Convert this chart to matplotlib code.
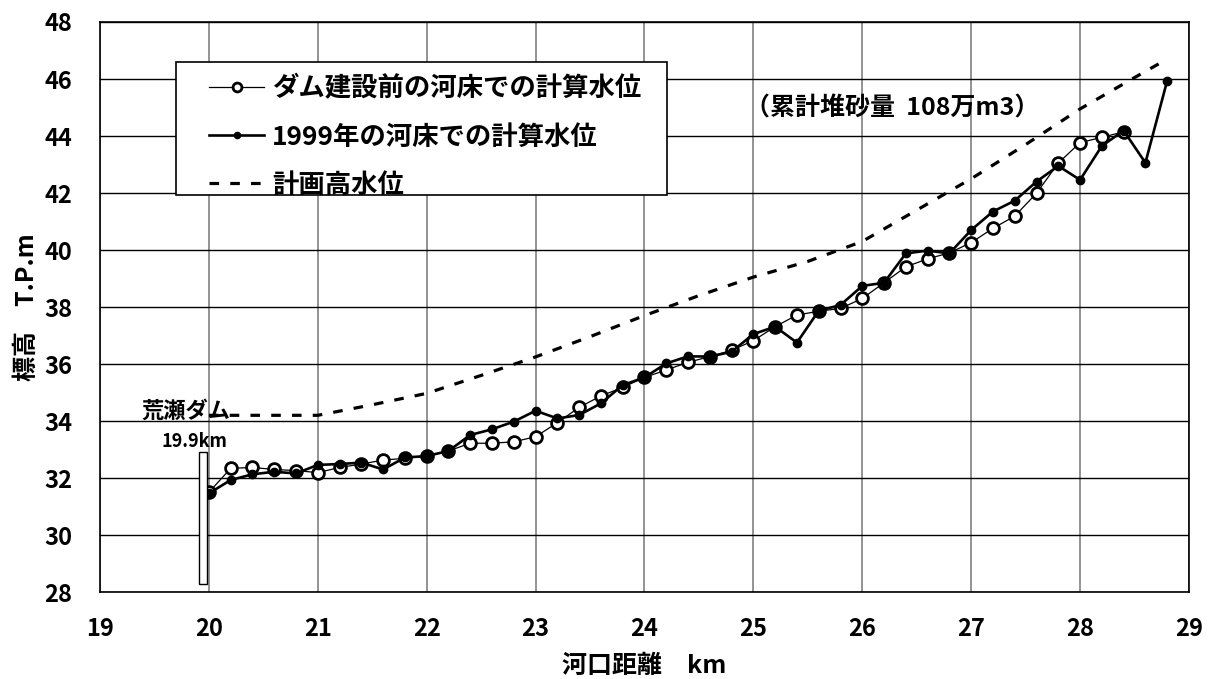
import matplotlib
matplotlib.use('Agg')
from matplotlib import pyplot as plt
from matplotlib.patches import Rectangle

plt.rcParams['font.family'] = ['Noto Sans CJK JP', 'DejaVu Sans']
plt.rcParams['font.weight'] = 'bold'

# ダム建設前の河床での計算水位
x_before = [20.0, 20.2, 20.4, 20.6, 20.8, 21.0, 21.2, 21.4, 21.6, 21.8,
            22.0, 22.2, 22.4, 22.6, 22.8, 23.0, 23.2, 23.4, 23.6, 23.8,
            24.0, 24.2, 24.4, 24.6, 24.8, 25.0, 25.2, 25.4, 25.6, 25.8,
            26.0, 26.2, 26.4, 26.6, 26.8, 27.0, 27.2, 27.4, 27.6, 27.8,
            28.0, 28.2, 28.4]
y_before = [31.5, 32.34, 32.37, 32.3, 32.26, 32.19, 32.37, 32.49, 32.63, 32.69,
            32.77, 32.95, 33.22, 33.22, 33.27, 33.45, 33.94, 34.48, 34.88, 35.18,
            35.53, 35.79, 36.06, 36.26, 36.48, 36.82, 37.31, 37.72, 37.85, 37.95,
            38.3, 38.85, 39.41, 39.69, 39.9, 40.26, 40.76, 41.19, 41.99, 43.05,
            43.77, 43.95, 44.15]

# 1999年の河床での計算水位
x_1999 = [20.0, 20.2, 20.4, 20.6, 20.8, 21.0, 21.2, 21.4, 21.6, 21.8,
          22.0, 22.2, 22.4, 22.6, 22.8, 23.0, 23.2, 23.4, 23.6, 23.8,
          24.0, 24.2, 24.4, 24.6, 24.8, 25.0, 25.2, 25.4, 25.6, 25.8,
          26.0, 26.2, 26.4, 26.6, 26.8, 27.0, 27.2, 27.4, 27.6, 27.8,
          28.0, 28.2, 28.4, 28.6, 28.8]
y_1999 = [31.46, 31.93, 32.13, 32.22, 32.16, 32.46, 32.49, 32.54, 32.3, 32.72,
          32.77, 32.95, 33.51, 33.71, 33.98, 34.36, 34.09, 34.21, 34.62, 35.26,
          35.53, 36.02, 36.27, 36.26, 36.43, 37.05, 37.31, 36.75, 37.87, 38.07,
          38.74, 38.85, 39.88, 39.98, 39.88, 40.7, 41.35, 41.73, 42.4, 42.95,
          42.46, 43.65, 44.19, 43.06, 45.94]

# 計画高水位
x_plan = [20.0, 21.0, 21.5, 22.0, 22.5, 23.0, 23.5, 24.0, 24.5, 25.0,
          25.5, 26.0, 26.5, 27.0, 27.5, 28.0, 28.5, 28.8]
y_plan = [34.2, 34.2, 34.57, 34.97, 35.6, 36.25, 36.96, 37.7, 38.4, 39.05,
          39.6, 40.3, 41.4, 42.5, 43.7, 44.95, 46.05, 46.7]

xticks = list(range(19, 30))
yticks = list(range(28, 50, 2))

fig = plt.figure(figsize=(12.11, 6.79), dpi=100)
ax = fig.add_axes([0.0826, 0.1281, 0.8992, 0.8395])

ax.plot(x_plan, y_plan, linestyle=(0, (3, 3.5)), color='black', lw=2.3,
        label='計画高水位', zorder=3)
ax.plot(x_before, y_before, '-o', color='black', lw=0.9, markersize=8.5,
        markerfacecolor='white', markeredgewidth=2.0,
        label='ダム建設前の河床での計算水位', zorder=4)
ax.plot(x_1999, y_1999, '-o', color='black', lw=1.9, markersize=6.0,
        label='1999年の河床での計算水位', zorder=5)

# 荒瀬ダム
ax.add_patch(Rectangle((19.91, 28.28), 0.07, 4.62, facecolor='white',
                       edgecolor='black', lw=1.0, zorder=6))
ax.text(19.38, 34.35, '荒瀬ダム', fontsize=16, fontweight='bold', va='center')
ax.text(19.87, 33.27, '19.9km', fontsize=13, fontweight='bold',
        va='center', ha='center')
ax.text(24.92, 44.95, '（累計堆砂量  108万m3）', fontsize=18,
        fontweight='bold', va='center')

ax.set_xlim(19, 29)
ax.set_ylim(28, 48)
ax.set_xticks(xticks)
ax.set_yticks(yticks)
ax.tick_params(labelsize=17, length=0)
ax.tick_params(axis='y', pad=20)
ax.tick_params(axis='x', pad=18)
for lab in ax.get_xticklabels() + ax.get_yticklabels():
    lab.set_fontweight('bold')
ax.xaxis.grid(True, color='#808080', lw=1.2)
ax.yaxis.grid(True, color='black', lw=1.0)
ax.set_axisbelow(True)
for s in ax.spines.values():
    s.set_linewidth(1.2)

ax.set_xlabel('河口距離　km', fontsize=18, fontweight='bold', labelpad=9)
ax.set_ylabel('標高　T.P.m', fontsize=18, fontweight='bold', labelpad=4)

# legend frame drawn by hand, entries placed inside
ax.add_patch(Rectangle((0.0698, 0.6965), 0.4509, 0.2333, transform=ax.transAxes,
                       facecolor='white', edgecolor='black', lw=1.2, zorder=7))
handles, labels = ax.get_legend_handles_labels()
order = [1, 2, 0]
leg = ax.legend([handles[i] for i in order], [labels[i] for i in order],
                loc='center left', bbox_to_anchor=(0.1001, 0.7982),
                borderaxespad=0, borderpad=0, fontsize=19, frameon=False,
                handlelength=2.1, handletextpad=0.3,
                labelspacing=0.8, markerscale=0.75)
leg.set_zorder(8)
for t in leg.get_texts():
    t.set_fontweight('bold')

plt.savefig('out.png', dpi=100)
